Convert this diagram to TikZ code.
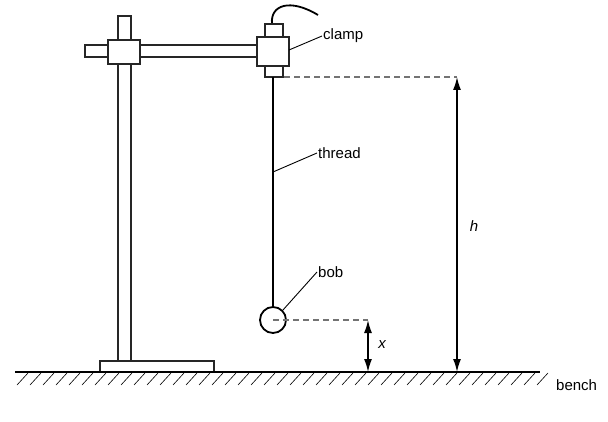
\documentclass[tikz,border=0pt]{standalone}
\usepackage{fontspec}
\setmainfont{Liberation Sans}
\usetikzlibrary{arrows.meta}
\begin{document}
\begin{tikzpicture}[x=1pt,y=-1pt,
  part/.style={draw=black!85,line width=2.2pt,fill=white},
  lead/.style={draw=black,line width=0.9pt},
  dim/.style={draw=black,line width=1.5pt,{Latex[length=13pt,width=8pt]}-{Latex[length=13pt,width=8pt]}},
  dsh/.style={draw=black!55,line width=1.3pt,dash pattern=on 6pt off 4pt},
  lbl/.style={font=\fontsize{15}{18}\selectfont,inner sep=1pt}]
\useasboundingbox (0,0) rectangle (608,422);
% stand
\draw[part] (118,16) rectangle (131,361);
\draw[part] (85,45) rectangle (257,57);
\draw[part] (108,40) rectangle (140,64);
\draw[part] (100,361) rectangle (214,372);
% clamp
\draw[line width=1.8pt] (272,24) .. controls (270,5) and (290,-2) .. (318,15);
\draw[part] (265,24) rectangle (283,37);
\draw[part] (265,66) rectangle (283,77);
\draw[part] (257,37) rectangle (289,66);
\coordinate (ctop) at (284,77);
\coordinate (hstart) at (457,77);
% thread and bob
\draw[line width=2.2pt] (273,77) -- (273,307);
\node[draw,line width=1.8pt,circle,minimum size=26pt,inner sep=0] (bob) at (273,320) {};
% bench
\coordinate (bl) at (15,372); \coordinate (br) at (540,372);
\draw[line width=1.8pt] (bl) -- (br);
\foreach \i in {0,...,40} \draw[line width=0.6pt] ({28+13*\i},373) -- ({17+13*\i},385);
% dashes and dims
\draw[dsh] (ctop) -- (hstart);
\draw[dsh] (bob.center) -- (368,320);
\coordinate (hb) at (457,372); \coordinate (xt) at (368,320); \coordinate (xb) at (368,372);
\draw[dim] (hstart) -- (hb);
\draw[dim] (xt) -- (xb);
\node[lbl,font=\fontsize{15}{18}\selectfont\itshape] (h) at (474,226) {h};
\node[lbl,font=\fontsize{15}{18}\selectfont\itshape] (x) at (382,345) {x};
% labels
\node[lbl,anchor=west] (clamp) at (322,36) {clamp};
\draw[lead] (289,50) -- (clamp.west);
\node[lbl,anchor=west] (thread) at (317,153) {thread};
\draw[lead] (273,172) -- (thread.west);
\node[lbl,anchor=west] (bobl) at (317,272) {bob};
\draw[lead] (bob.north east) -- (bobl.west);
\node[lbl,anchor=west] (bench) at (555,385) {bench};
\end{tikzpicture}
\end{document}
